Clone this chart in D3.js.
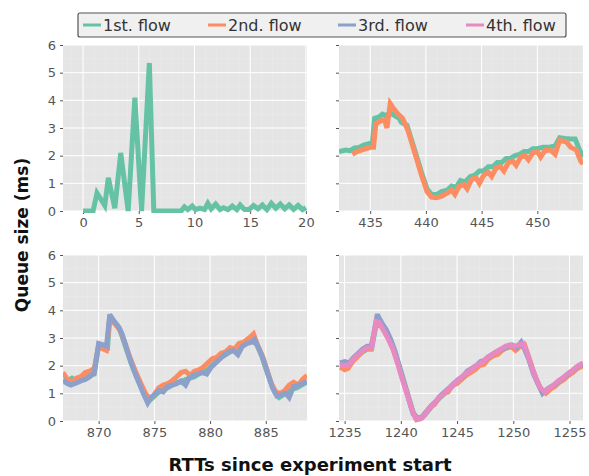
<!DOCTYPE html>
<html>
<head>
<meta charset="utf-8">
<script src="https://cdn.jsdelivr.net/npm/d3@7"></script>
<style>
  body { margin: 0; background: #fff; }
  svg { display: block; font-family: "DejaVu Sans", sans-serif; }
</style>
</head>
<body>
<svg id="chart" width="589" height="476"></svg>
<script>
// ---- data ----
var flowNames = ["1st. flow", "2nd. flow", "3rd. flow", "4th. flow"];
var flowColors = ["#66c2a5", "#fc8d62", "#8da0cb", "#e78ac3"];
var yTicks = [0, 1, 2, 3, 4, 5, 6];

var p1Ticks = [0, 5, 10, 15, 20];
var p2Ticks = [435, 440, 445, 450];
var p3Ticks = [870, 875, 880, 885];
var p4Ticks = [1235, 1240, 1245, 1250, 1255];

// panel 1: slow start
var p1Green = [[0,0],[0.9,0],[1.25,0.65],[1.95,0.2],[2.27,1.2],[2.85,0.1],[3.38,2.1],[4.05,0],[4.65,4.1],[5.25,0],
  [5.95,5.35],[6.35,0],[8.8,0],[9.1,0.15],[9.4,0.05],[9.8,0.18],[10.1,0.05],[10.5,0.1],[10.9,0.05],[11.2,0.28],
  [11.5,0.08],[11.9,0.25],[12.3,0.05],[12.6,0.12],[13.0,0.05],[13.4,0.18],[13.8,0.05],[14.1,0.22],[14.5,0.05],[14.9,0.05],
  [15.3,0.2],[15.7,0.08],[16.1,0.22],[16.5,0.05],[16.9,0.28],[17.3,0.1],[17.7,0.25],[18.1,0.08],[18.5,0.22],[18.9,0.06],
  [19.3,0.2],[19.7,0.05],[20.0,0.12]];

// panel 2: two flows
var p2Green = [[432.2,2.15],[432.8,2.2],[433.2,2.18],[433.6,2.28],[434.0,2.3],[434.4,2.38],[434.8,2.42],[435.2,2.48],[435.4,3.35],[435.8,3.4],
  [436.1,3.5],[436.4,3.45],[436.8,3.55],[437.2,3.45],[437.6,3.35],[437.8,3.2],[438.3,3.1],[439.0,2.2],[439.6,1.4],[440.1,0.8],
  [440.5,0.6],[441.0,0.6],[441.4,0.7],[441.9,0.75],[442.3,0.9],[442.7,0.85],[443.1,1.1],[443.5,1.05],[444.0,1.25],[444.4,1.3],
  [444.8,1.45],[445.2,1.45],[445.6,1.6],[446.0,1.6],[446.4,1.75],[446.8,1.75],[447.2,1.9],[447.6,1.9],[448.0,2.0],[448.4,2.05],
  [448.8,2.15],[449.2,2.15],[449.6,2.25],[450.0,2.25],[450.5,2.3],[451.0,2.3],[451.6,2.35],[452.0,2.65],[452.5,2.62],[453.0,2.6],
  [453.4,2.6],[453.8,2.2],[454.1,1.95]];
var p2Orange = [[433.4,2.05],[433.8,2.15],[434.2,2.2],[434.6,2.25],[435.0,2.3],[435.3,2.3],[435.5,3.15],[435.9,3.25],[436.3,3.3],[436.5,3.0],
  [436.8,3.88],[437.1,3.7],[437.5,3.5],[437.9,3.35],[438.4,2.9],[439.0,2.1],[439.6,1.3],[440.1,0.7],[440.5,0.5],[441.0,0.48],
  [441.5,0.55],[441.9,0.65],[442.3,0.75],[442.6,0.6],[443.0,0.9],[443.4,0.95],[443.7,0.8],[444.1,1.15],[444.5,1.2],[444.8,1.0],
  [445.2,1.3],[445.6,1.4],[445.9,1.25],[446.3,1.55],[446.7,1.6],[447.0,1.45],[447.4,1.75],[447.8,1.8],[448.1,1.65],[448.5,1.95],
  [448.9,2.0],[449.2,1.85],[449.6,2.1],[450.0,2.15],[450.3,1.95],[450.7,2.2],[451.2,2.2],[451.6,2.05],[452.0,2.55],[452.6,2.5],
  [453.0,2.3],[453.5,2.2],[453.9,1.8],[454.1,1.7]];

// panel 3: three flows
var p3Green = [[866.8,1.4],[867.2,1.45],[867.6,1.55],[868.0,1.45],[868.4,1.5],[868.8,1.55],[869.2,1.65],[869.6,1.7],[870.0,2.75],[870.4,2.7],
  [870.8,2.65],[871.0,3.8],[871.4,3.55],[871.9,3.3],[872.4,2.7],[872.9,2.1],[873.4,1.6],[873.9,1.15],[874.3,0.85],[874.6,0.75],
  [875.0,0.9],[875.4,1.05],[875.8,1.15],[876.2,1.2],[876.6,1.3],[877.0,1.4],[877.4,1.4],[877.8,1.5],[878.2,1.55],[878.6,1.6],
  [879.0,1.7],[879.4,1.8],[879.8,1.85],[880.2,2.0],[880.6,2.15],[881.0,2.3],[881.4,2.4],[881.8,2.5],[882.2,2.6],[882.6,2.65],
  [883.0,2.75],[883.4,2.85],[883.8,2.9],[884.2,2.75],[884.6,2.4],[885.0,1.9],[885.4,1.45],[885.8,1.05],[886.2,0.85],[886.6,0.95],
  [887.0,1.05],[887.4,1.15],[887.8,1.2],[888.2,1.3],[888.7,1.4]];
var p3Orange = [[866.8,1.75],[867.2,1.5],[867.6,1.4],[868.0,1.55],[868.4,1.6],[868.8,1.75],[869.2,1.8],[869.6,1.9],[870.0,2.7],[870.4,2.6],
  [870.7,2.55],[871.0,3.7],[871.5,3.5],[871.9,3.3],[872.3,2.9],[872.8,2.3],[873.3,1.8],[873.8,1.35],[874.2,1.0],[874.6,0.8],
  [875.0,0.95],[875.4,1.2],[875.8,1.3],[876.2,1.35],[876.6,1.45],[877.0,1.6],[877.4,1.75],[877.8,1.8],[878.2,1.65],[878.6,1.8],
  [879.0,1.85],[879.4,1.95],[879.8,2.1],[880.2,2.25],[880.6,2.3],[881.0,2.45],[881.4,2.5],[881.8,2.65],[882.2,2.6],[882.6,2.8],
  [883.0,2.85],[883.5,3.0],[883.9,3.15],[884.3,2.7],[884.7,2.35],[885.1,1.85],[885.5,1.35],[885.9,1.05],[886.3,1.0],[886.7,1.1],
  [887.1,1.3],[887.5,1.4],[887.9,1.3],[888.3,1.5],[888.7,1.65]];
var p3Blue = [[866.8,1.5],[867.2,1.35],[867.5,1.3],[868.0,1.38],[868.4,1.45],[868.8,1.5],[869.2,1.6],[869.6,1.75],[870.0,2.8],[870.4,2.75],
  [870.7,2.7],[871.0,3.85],[871.4,3.6],[871.8,3.4],[872.1,3.15],[872.6,2.5],[873.1,1.9],[873.6,1.4],[874.0,1.0],[874.4,0.65],
  [874.7,0.85],[875.0,0.95],[875.4,1.1],[875.8,1.05],[876.2,1.25],[876.6,1.3],[877.0,1.35],[877.4,1.45],[877.8,1.3],[878.1,1.55],
  [878.5,1.65],[878.9,1.7],[879.3,1.75],[879.7,1.7],[880.1,1.95],[880.5,2.1],[880.9,2.25],[881.3,2.4],[881.7,2.5],[882.1,2.55],
  [882.5,2.4],[882.9,2.7],[883.3,2.8],[883.7,2.85],[884.0,2.95],[884.4,2.6],[884.8,2.2],[885.2,1.7],[885.6,1.2],[886.0,0.9],
  [886.4,0.95],[886.8,1.0],[887.1,0.85],[887.5,1.25],[887.9,1.3],[888.3,1.35],[888.7,1.45]];

// panel 4: four flows
var p4Green = [[1234.6,2.0],[1235.0,2.05],[1235.4,2.0],[1235.8,2.2],[1236.2,2.35],[1236.6,2.5],[1237.0,2.6],[1237.4,2.6],[1237.9,3.7],[1238.3,3.5],
  [1238.7,3.25],[1239.1,2.9],[1239.5,2.45],[1239.9,1.95],[1240.3,1.4],[1240.7,0.85],[1241.1,0.3],[1241.5,0.08],[1241.9,0.12],[1242.3,0.3],
  [1242.7,0.5],[1243.1,0.7],[1243.5,0.85],[1243.9,1.0],[1244.3,1.15],[1244.7,1.3],[1245.1,1.45],[1245.5,1.6],[1245.9,1.7],[1246.3,1.85],
  [1246.7,1.95],[1247.1,2.1],[1247.5,2.2],[1247.9,2.3],[1248.3,2.4],[1248.7,2.5],[1249.1,2.6],[1249.5,2.65],[1249.9,2.7],[1250.3,2.6],
  [1250.7,2.75],[1251.0,2.65],[1251.4,2.25],[1251.8,1.75],[1252.2,1.35],[1252.6,1.05],[1253.0,1.1],[1253.4,1.2],[1253.8,1.35],[1254.2,1.45],
  [1254.6,1.6],[1255.0,1.7],[1255.4,1.85],[1255.8,1.95],[1256.2,2.05]];
var p4Orange = [[1234.6,1.95],[1235.0,1.85],[1235.3,1.9],[1235.7,2.15],[1236.1,2.3],[1236.5,2.5],[1236.9,2.6],[1237.3,2.6],[1237.8,3.5],[1238.2,3.45],
  [1238.6,3.2],[1239.0,2.9],[1239.4,2.5],[1239.8,2.0],[1240.2,1.45],[1240.6,0.95],[1241.0,0.4],[1241.4,0.05],[1241.8,0.1],[1242.2,0.3],
  [1242.6,0.5],[1243.0,0.6],[1243.4,0.85],[1243.8,1.0],[1244.2,1.05],[1244.6,1.3],[1245.0,1.35],[1245.4,1.5],[1245.8,1.65],[1246.2,1.75],
  [1246.6,1.85],[1247.0,2.0],[1247.4,2.05],[1247.8,2.25],[1248.2,2.35],[1248.6,2.4],[1249.0,2.55],[1249.4,2.65],[1249.8,2.7],[1250.2,2.55],
  [1250.6,2.7],[1251.0,2.75],[1251.3,2.4],[1251.7,1.9],[1252.1,1.45],[1252.5,1.1],[1252.9,1.0],[1253.3,1.15],[1253.7,1.25],[1254.1,1.4],
  [1254.5,1.5],[1254.9,1.65],[1255.3,1.75],[1255.7,1.9],[1256.2,2.0]];
var p4Blue = [[1234.6,2.1],[1235.0,2.15],[1235.4,2.1],[1235.8,2.3],[1236.2,2.45],[1236.6,2.6],[1237.0,2.7],[1237.4,2.7],[1237.9,3.85],[1238.3,3.55],
  [1238.7,3.3],[1239.1,2.95],[1239.5,2.5],[1239.9,1.9],[1240.3,1.35],[1240.7,0.8],[1241.1,0.25],[1241.5,0.1],[1241.9,0.15],[1242.3,0.35],
  [1242.7,0.55],[1243.1,0.7],[1243.5,0.9],[1243.9,1.05],[1244.3,1.2],[1244.7,1.35],[1245.1,1.5],[1245.5,1.6],[1245.9,1.8],[1246.3,1.9],
  [1246.7,2.0],[1247.1,2.15],[1247.5,2.2],[1247.9,2.35],[1248.3,2.45],[1248.7,2.55],[1249.1,2.6],[1249.5,2.7],[1249.9,2.75],[1250.3,2.65],
  [1250.7,2.85],[1251.0,2.6],[1251.4,2.2],[1251.8,1.7],[1252.2,1.35],[1252.6,1.0],[1253.0,1.15],[1253.4,1.25],[1253.8,1.35],[1254.2,1.5],
  [1254.6,1.6],[1255.0,1.75],[1255.4,1.85],[1255.8,2.0],[1256.2,2.05]];
var p4Pink = [[1234.6,2.05],[1235.0,2.0],[1235.4,2.05],[1235.8,2.25],[1236.2,2.4],[1236.6,2.55],[1237.0,2.65],[1237.4,2.65],[1237.8,3.6],[1238.1,3.55],
  [1238.5,3.25],[1238.9,2.95],[1239.3,2.6],[1239.7,2.1],[1240.1,1.55],[1240.5,1.05],[1240.9,0.5],[1241.3,0.1],[1241.7,0.08],[1242.1,0.2],
  [1242.5,0.45],[1242.9,0.6],[1243.3,0.8],[1243.7,0.95],[1244.1,1.1],[1244.5,1.25],[1244.9,1.4],[1245.3,1.55],[1245.7,1.7],[1246.1,1.8],
  [1246.5,1.95],[1246.9,2.05],[1247.3,2.15],[1247.7,2.3],[1248.1,2.4],[1248.5,2.5],[1248.9,2.6],[1249.3,2.7],[1249.7,2.75],[1250.1,2.7],
  [1250.5,2.75],[1250.9,2.8],[1251.2,2.5],[1251.6,2.0],[1252.0,1.55],[1252.4,1.2],[1252.8,1.05],[1253.2,1.2],[1253.6,1.3],[1254.0,1.45],
  [1254.4,1.55],[1254.8,1.7],[1255.2,1.8],[1255.6,1.95],[1256.2,2.1]];

// ---- layout ----
var panels = [
  { x: 63,  y: 45,  xd: [-1.8, 20.1],    ticks: p1Ticks, series: [p1Green], labels: true },
  { x: 339, y: 45,  xd: [432.2, 454.1],  ticks: p2Ticks, series: [p2Green, p2Orange], labels: false },
  { x: 63,  y: 255, xd: [866.8, 888.7],  ticks: p3Ticks, series: [p3Green, p3Orange, p3Blue], labels: true },
  { x: 339, y: 255, xd: [1234.5, 1256.2], ticks: p4Ticks, series: [p4Green, p4Orange, p4Blue, p4Pink], labels: false }
];
var pw = 244, ph = 166;

var svg = d3.select("#chart");

panels.forEach(function(p) {
  var g = svg.append("g").attr("transform", "translate(" + p.x + "," + p.y + ")");
  var x = d3.scaleLinear().domain(p.xd).range([0, pw]);
  var y = d3.scaleLinear().domain([0, 6]).range([ph, 0]);

  g.append("rect").attr("width", pw).attr("height", ph).attr("fill", "#e5e5e5");

  // minor grid
  var minorX = d3.range(Math.ceil(p.xd[0]), Math.floor(p.xd[1]) + 1);
  g.selectAll(".mx").data(minorX).enter().append("line")
    .attr("x1", function(d) { return x(d); }).attr("x2", function(d) { return x(d); })
    .attr("y1", 0).attr("y2", ph)
    .attr("stroke", "#fff").attr("stroke-width", 0.5).attr("opacity", 0.3);
  g.selectAll(".my").data(d3.range(0.5, 6, 1)).enter().append("line")
    .attr("x1", 0).attr("x2", pw)
    .attr("y1", function(d) { return y(d); }).attr("y2", function(d) { return y(d); })
    .attr("stroke", "#fff").attr("stroke-width", 0.5).attr("opacity", 0.3);

  // major grid
  g.selectAll(".gx").data(p.ticks).enter().append("line")
    .attr("x1", function(d) { return x(d); }).attr("x2", function(d) { return x(d); })
    .attr("y1", 0).attr("y2", ph)
    .attr("stroke", "#fff").attr("stroke-width", 1);
  g.selectAll(".gy").data(yTicks).enter().append("line")
    .attr("x1", 0).attr("x2", pw)
    .attr("y1", function(d) { return y(d); }).attr("y2", function(d) { return y(d); })
    .attr("stroke", "#fff").attr("stroke-width", 1);

  // axes
  var xa = g.append("g").attr("transform", "translate(0," + ph + ")")
    .call(d3.axisBottom(x).tickValues(p.ticks).tickSize(3).tickPadding(4).tickFormat(d3.format("d")));
  var ya = g.append("g")
    .call(d3.axisLeft(y).tickValues(yTicks).tickSize(3).tickPadding(4)
      .tickFormat(p.labels ? d3.format("d") : ""));
  [xa, ya].forEach(function(a) {
    a.select(".domain").remove();
    a.selectAll("line").attr("stroke", "#555");
    a.selectAll("text").attr("fill", "#555").style("font-size", "13px")
      .style("font-family", "'DejaVu Sans', sans-serif");
  });

  // series
  var clipId = "clip" + p.x + "_" + p.y;
  g.append("clipPath").attr("id", clipId).append("rect").attr("width", pw).attr("height", ph + 3).attr("y", -1);
  var line = d3.line().x(function(d) { return x(d[0]); }).y(function(d) { return y(d[1]); });
  g.append("g").attr("clip-path", "url(#" + clipId + ")")
    .selectAll("path").data(p.series).enter().append("path")
    .attr("d", line)
    .attr("fill", "none")
    .attr("stroke", function(d, i) { return flowColors[i]; })
    .attr("stroke-width", 5)
    .attr("stroke-linejoin", "miter")
    .attr("stroke-miterlimit", 3);
});

// axis titles
svg.append("text")
  .attr("transform", "translate(28,235) rotate(-90)")
  .attr("text-anchor", "middle")
  .style("font-size", "17px").style("font-weight", "bold").attr("fill", "#111")
  .text("Queue size (ms)");
svg.append("text")
  .attr("x", 310).attr("y", 471)
  .attr("text-anchor", "middle")
  .style("font-size", "18px").style("font-weight", "bold").attr("fill", "#111")
  .text("RTTs since experiment start");

// legend
var legend = svg.append("g");
legend.append("rect")
  .attr("x", 78).attr("y", 13).attr("width", 488).attr("height", 24).attr("rx", 2)
  .attr("fill", "#f0f0f0").attr("stroke", "#555").attr("stroke-width", 1.2);
var legX = [83, 208, 338, 466];
flowNames.forEach(function(name, i) {
  legend.append("line")
    .attr("x1", legX[i]).attr("x2", legX[i] + 18).attr("y1", 25).attr("y2", 25)
    .attr("stroke", flowColors[i]).attr("stroke-width", 3);
  legend.append("text")
    .attr("x", legX[i] + 20).attr("y", 31)
    .style("font-size", "16px").attr("fill", "#333")
    .text(name);
});
</script>
</body>
</html>
